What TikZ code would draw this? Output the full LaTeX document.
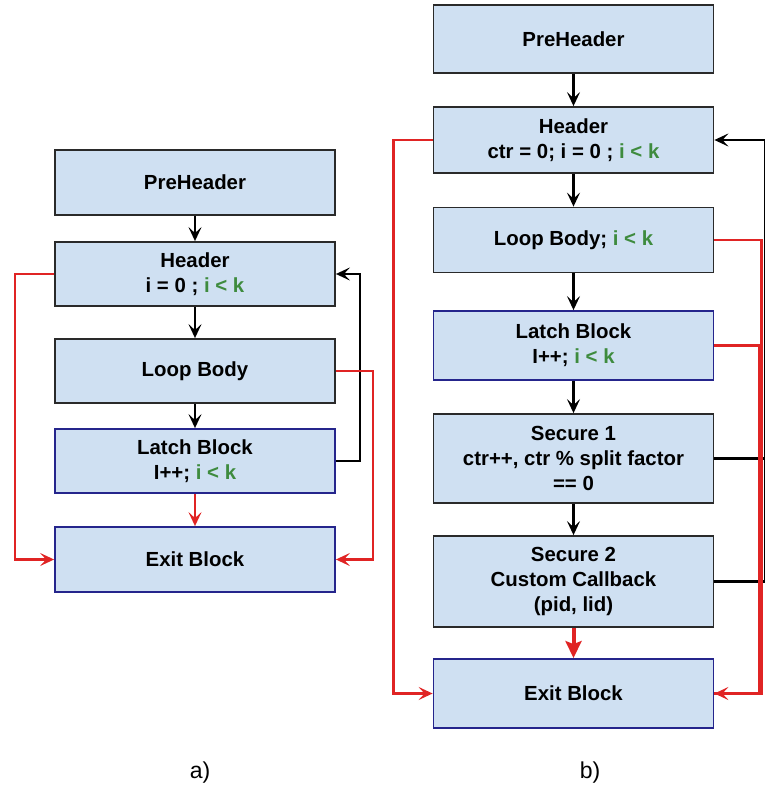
\documentclass[tikz,border=0pt]{standalone}
\usepackage{fontspec}
\setmainfont{Liberation Sans}
\usetikzlibrary{arrows.meta, positioning}

\definecolor{boxfill}{HTML}{CFE0F2}
\definecolor{boxline}{HTML}{2A2A2A}
\definecolor{navyline}{HTML}{25258C}
\definecolor{exitred}{HTML}{E02424}
\definecolor{condgreen}{HTML}{3E8B3E}
\newcommand{\loopcond}{\textcolor{condgreen}{i < k}}

\begin{document}
\begin{tikzpicture}[x=0.5pt, y=-0.5pt,
  blockbox/.style={draw=boxline, fill=boxfill, line width=0.9pt, minimum width=140pt,
    inner sep=0pt, align=center, font=\fontsize{10.2}{12.5}\selectfont\bfseries},
  navybox/.style={blockbox, draw=navyline},
  flowarrow/.style={line width=1.3pt, -{Stealth[length=7pt, width=6.5pt, inset=3pt]}},
  exitline/.style={exitred, line width=1.3pt},
  exitarrow/.style={exitline, -{Stealth[length=7pt, width=6.5pt, inset=3pt]}},
  caption/.style={font=\fontsize{11.5}{13}\selectfont}]

\useasboundingbox (0,0) rectangle (765,793);

% --- a) plain loop ---
\node[blockbox, minimum height=32.5pt] (aPre)   at (195,182.5) {PreHeader};
\node[blockbox, minimum height=32pt]   (aHead)  at (195,274)   {Header\\i = 0 ; \loopcond};
\node[blockbox, minimum height=32pt]   (aBody)  at (195,371)   {Loop Body};
\node[navybox,  minimum height=32pt]   (aLatch) at (195,461)   {Latch Block\\I++; \loopcond};
\node[navybox,  minimum height=32.5pt] (aExit)  at (195,559.5) {Exit Block};
\node[caption] (capA) at (200,773) {a)};

\draw[flowarrow] (aPre) -- (aHead);
\draw[flowarrow] (aHead) -- (aBody);
\draw[flowarrow] (aBody) -- (aLatch);
\draw[flowarrow] (aLatch.east) -- ++(24,0) |- (aHead.east);
\draw[exitarrow] (aLatch) -- (aExit);
\draw[exitarrow] (aBody.east) -- ++(37,0) |- (aExit.east);
\draw[exitarrow] (aHead.west) -- ++(-39,0) |- (aExit.west);

% --- b) loop with secure blocks ---
\node[blockbox, minimum height=34pt]   (bPre)   at (573.5,39)    {PreHeader};
\node[blockbox, minimum height=33pt]   (bHead)  at (573.5,140)   {Header\\ctr = 0; i = 0 ; \loopcond};
\node[blockbox, minimum height=32.5pt] (bBody)  at (573.5,240)   {Loop Body; \loopcond};
\node[navybox,  minimum height=34.5pt] (bLatch) at (573.5,345.5) {Latch Block\\I++; \loopcond};
\node[blockbox, minimum height=44.5pt] (bSec1)  at (573.5,458.5) {Secure 1\\ctr++, ctr \% split factor\\== 0};
\node[blockbox, minimum height=45.5pt] (bSec2)  at (573.5,581.5) {Secure 2\\Custom Callback\\(pid, lid)};
\node[navybox,  minimum height=34.5pt] (bExit)  at (573.5,693.5) {Exit Block};
\node[caption] (capB) at (590,773) {b)};

\draw[flowarrow] (bPre) -- (bHead);
\draw[flowarrow] (bHead) -- (bBody);
\draw[flowarrow] (bBody) -- (bLatch);
\draw[flowarrow] (bLatch) -- (bSec1);
\draw[flowarrow] (bSec1) -- (bSec2);
\draw[line width=1.3pt] (bSec1.east) -- ++(51,0);
\draw[flowarrow] (bSec2.east) -- ++(51,0) |- (bHead.east);
\draw[exitline, line width=2pt, -{Stealth[length=8.5pt, width=8pt, inset=1.5pt]}] (bSec2) -- (bExit);
\draw[exitarrow] (bBody.east) -- ++(47,0) |- (bExit.east);
\draw[exitline] (bLatch.east) -- ++(45,0) |- (bExit.east);
\draw[exitarrow] (bHead.west) -- ++(-39,0) |- (bExit.west);

\end{tikzpicture}
\end{document}
